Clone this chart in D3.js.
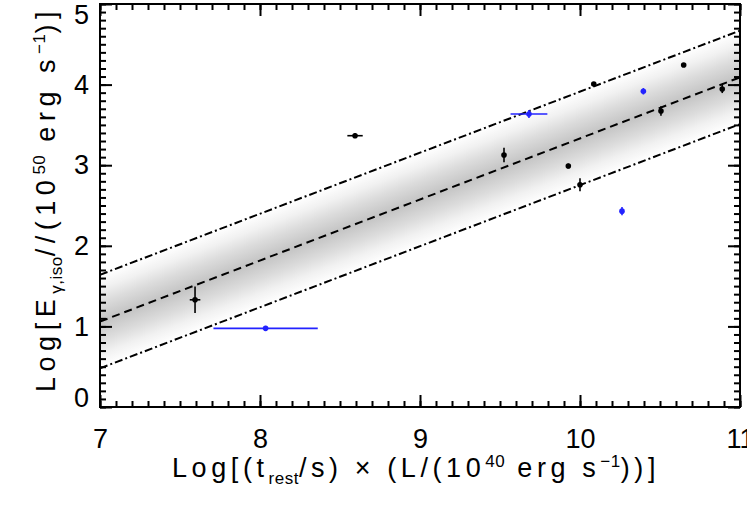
<!DOCTYPE html>
<html>
<head>
<meta charset="utf-8">
<script src="https://cdn.jsdelivr.net/npm/d3@7"></script>
<style>
  html, body { margin: 0; padding: 0; background: #fff; }
  svg { display: block; }
  text { font-family: "Liberation Sans", Arial, sans-serif; fill: #000; }
</style>
</head>
<body>
<svg id="chart" width="747" height="510"></svg>
<script>
// ---- data ----
const xDomain = [7, 11];
const yDomain = [0, 5];
const xTicks = [7, 8, 9, 10, 11];
const yTicks = [0, 1, 2, 3, 4, 5];

// best-fit line: y = fitMid + fitSlope * (x - fitPivot), band +/- fitWidth
const fitPivot = 9;
const fitMid = 2.575;
const fitSlope = 0.7575;
const fitWidth = 0.58;

const blackX    = [7.594, 8.594, 9.525, 9.927, 10.0, 10.086, 10.506, 10.648, 10.889];
const blackY    = [1.33, 3.366, 3.127, 2.99, 2.758, 4.007, 3.672, 4.243, 3.945];
const blackXErr = [0.033, 0.048, 0.01, 0.01, 0.01, 0.01, 0.01, 0.01, 0.01];
const blackYErr = [0.165, 0.03, 0.09, 0.03, 0.08, 0.02, 0.06, 0.02, 0.05];

const blueX    = [8.035, 9.681, 10.396, 10.2625];
const blueY    = [0.976, 3.635, 3.917, 2.43];
const blueXErr = [0.326, 0.115, 0.01, 0.01];
const blueYErr = [0.03, 0.05, 0.04, 0.05];

// ---- chart ----
const FONT = '"Liberation Sans", Arial, sans-serif';
const svg = d3.select("#chart");
const x = d3.scaleLinear().domain(xDomain).range([100, 740]);
const y = d3.scaleLinear().domain(yDomain).range([407, 4]);

const defs = svg.append("defs");
defs.append("clipPath").attr("id", "plotclip")
  .append("rect").attr("x", 100).attr("y", 4).attr("width", 640).attr("height", 403);

const fit = v => fitMid + fitSlope * (v - fitPivot);

// gradient perpendicular to the fit line
const cx = x(fitPivot), cy = y(fit(fitPivot));
const dxp = x(fitPivot + 1) - cx, dyp = y(fit(fitPivot + 1)) - cy;
const len = Math.hypot(dxp, dyp);
const nx = -dyp / len, ny = dxp / len;
const vOff = y(fit(fitPivot) - fitWidth) - cy;
const perp = Math.abs(vOff) * Math.abs(dxp) / len;
const grad = defs.append("linearGradient").attr("id", "bandgrad")
  .attr("gradientUnits", "userSpaceOnUse")
  .attr("x1", cx - nx * perp).attr("y1", cy - ny * perp)
  .attr("x2", cx + nx * perp).attr("y2", cy + ny * perp);
[[0, "#ffffff"], [0.15, "#f1f1f1"], [0.3, "#dcdcdc"], [0.5, "#c4c4c4"],
 [0.7, "#dcdcdc"], [0.85, "#f1f1f1"], [1, "#ffffff"]].forEach(([o, c]) =>
  grad.append("stop").attr("offset", o).attr("stop-color", c));

const plot = svg.append("g").attr("clip-path", "url(#plotclip)");

const xs = [xDomain[0], xDomain[1]];
plot.append("path")
  .attr("d", d3.line()([
    [x(xs[0]), y(fit(xs[0]) + fitWidth)], [x(xs[1]), y(fit(xs[1]) + fitWidth)],
    [x(xs[1]), y(fit(xs[1]) - fitWidth)], [x(xs[0]), y(fit(xs[0]) - fitWidth)]
  ]) + "Z")
  .attr("fill", "url(#bandgrad)");

const line = d3.line().x(d => x(d[0])).y(d => y(d[1]));
plot.append("path").attr("d", line(xs.map(v => [v, fit(v)])))
  .attr("fill", "none").attr("stroke", "#000").attr("stroke-width", 2)
  .attr("stroke-dasharray", "8,5");
[fitWidth, -fitWidth].forEach(off => {
  plot.append("path").attr("d", line(xs.map(v => [v, fit(v) + off])))
    .attr("fill", "none").attr("stroke", "#000").attr("stroke-width", 2)
    .attr("stroke-dasharray", "8,3,2,3");
});

function drawPoints(X, Y, XE, YE, color, lw) {
  const g = plot.append("g");
  X.forEach((xv, i) => {
    g.append("line").attr("x1", x(xv - XE[i])).attr("x2", x(xv + XE[i]))
      .attr("y1", y(Y[i])).attr("y2", y(Y[i]))
      .attr("stroke", color).attr("stroke-width", lw);
    g.append("line").attr("x1", x(xv)).attr("x2", x(xv))
      .attr("y1", y(Y[i] - YE[i])).attr("y2", y(Y[i] + YE[i]))
      .attr("stroke", color).attr("stroke-width", lw);
    g.append("circle").attr("cx", x(xv)).attr("cy", y(Y[i])).attr("r", 2.8)
      .attr("fill", color);
  });
}
drawPoints(blackX, blackY, blackXErr, blackYErr, "#000", 1.6);
drawPoints(blueX, blueY, blueXErr, blueYErr, "#2323ff", 1.6);

// ---- axes ----
const minorX = d3.range(70, 111).map(v => v / 10);
const minorY = d3.range(0, 51).map(v => v / 10);
function styleAxis(g) {
  g.select(".domain").remove();
  g.selectAll(".tick line").attr("stroke", "#000").attr("stroke-width", 2);
  g.selectAll(".tick text").style("font-size", "27px").style("font-family", FONT);
}
// bottom
svg.append("g").attr("transform", "translate(0,407)")
  .call(d3.axisBottom(x).tickValues(minorX).tickSize(-6).tickFormat(""))
  .call(styleAxis);
svg.append("g").attr("transform", "translate(0,407)")
  .call(d3.axisBottom(x).tickValues(xTicks).tickSize(-12).tickPadding(22).tickFormat(d3.format("d")))
  .call(styleAxis);
// top
svg.append("g").attr("transform", "translate(0,4)")
  .call(d3.axisTop(x).tickValues(minorX).tickSize(-6).tickFormat(""))
  .call(styleAxis);
svg.append("g").attr("transform", "translate(0,4)")
  .call(d3.axisTop(x).tickValues(xTicks).tickSize(-12).tickFormat(""))
  .call(styleAxis);
// left
svg.append("g").attr("transform", "translate(100,0)")
  .call(d3.axisLeft(y).tickValues(minorY).tickSize(-6).tickFormat(""))
  .call(styleAxis);
const leftMajor = svg.append("g").attr("transform", "translate(100,0)")
  .call(d3.axisLeft(y).tickValues(yTicks).tickSize(-12).tickPadding(11).tickFormat(d3.format("d")))
  .call(styleAxis);
// keep end labels inside the frame height, as in the reference
leftMajor.selectAll(".tick text").attr("y", d => {
  const py = y(d);
  return Math.min(Math.max(py, 15), 398) - py;
});
// right
svg.append("g").attr("transform", "translate(740,0)")
  .call(d3.axisRight(y).tickValues(minorY).tickSize(-6).tickFormat(""))
  .call(styleAxis);
svg.append("g").attr("transform", "translate(740,0)")
  .call(d3.axisRight(y).tickValues(yTicks).tickSize(-12).tickFormat(""))
  .call(styleAxis);

// frame
svg.append("rect").attr("x", 100).attr("y", 4).attr("width", 640).attr("height", 403)
  .attr("fill", "none").attr("stroke", "#000").attr("stroke-width", 2);

// ---- axis titles ----
function addParts(t, parts) {
  let shift = 0;
  parts.forEach(([s, kind]) => {
    const target = kind === "sub" ? 7 : kind === "sup" ? -10 : 0;
    t.append("tspan").text(s)
      .attr("class", kind ? "small" : "big")
      .attr("dy", target - shift)
      .style("font-size", kind ? "17px" : "27px")
      .style("letter-spacing", kind ? "0.5px" : "0px");
    shift = target;
  });
}
function fitLength(t, target) {
  const w = t.node().getComputedTextLength();
  let n = 0;
  t.selectAll("tspan.big").each(function () { n += this.textContent.length; });
  const ls = (target - w) / n;
  t.selectAll("tspan.big").style("letter-spacing", ls + "px");
}
const xl = svg.append("text").attr("x", 416).attr("y", 477).attr("text-anchor", "middle")
  .style("font-size", "27px");
addParts(xl, [["Log[(t"], ["rest", "sub"], ["/s) × (L/(10"], ["40", "sup"],
  [" erg s"], ["−1", "sup"], ["))]"]]);
fitLength(xl, 488);

const yl = svg.append("text").attr("transform", "translate(55,199) rotate(-90)")
  .attr("text-anchor", "middle").style("font-size", "27px");
addParts(yl, [["Log[E"], ["γ,iso", "sub"], ["//(10"], ["50", "sup"],
  [" erg s"], ["−1", "sup"], [")]"]]);
fitLength(yl, 386);
</script>
</body>
</html>
